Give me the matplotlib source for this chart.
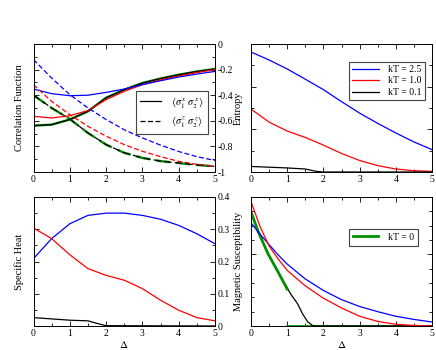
import matplotlib
matplotlib.use("Agg")
import matplotlib.pyplot as plt
from matplotlib.lines import Line2D
from matplotlib.ticker import MultipleLocator

plt.rcParams['font.family'] = ['Liberation Serif', 'DejaVu Serif']
plt.rcParams['mathtext.fontset'] = 'stix'
plt.rcParams['font.size'] = 7

# correlation functions (top left)
D = [0, 0.5, 1, 1.5, 2, 2.5, 3, 3.5, 4, 4.5, 5]
xx_blue = [-0.352, -0.388, -0.404, -0.400, -0.378, -0.352, -0.318, -0.287, -0.258, -0.235, -0.214]
xx_red = [-0.565, -0.578, -0.56, -0.52, -0.435, -0.37, -0.318, -0.28, -0.25, -0.223, -0.2]
xx_black = [-0.638, -0.63, -0.59, -0.526, -0.42, -0.357, -0.305, -0.27, -0.24, -0.215, -0.195]
zz_blue = [-0.122, -0.266, -0.396, -0.5, -0.59, -0.67, -0.734, -0.79, -0.84, -0.88, -0.91]
zz_red = [-0.318, -0.448, -0.552, -0.643, -0.72, -0.786, -0.838, -0.88, -0.917, -0.94, -0.956]
zz_black = [-0.40, -0.5, -0.586, -0.695, -0.786, -0.85, -0.89, -0.915, -0.93, -0.945, -0.956]

# entropy (top right)
S_blue = [0.5625, 0.525, 0.483, 0.435, 0.386, 0.33, 0.276, 0.228, 0.183, 0.141, 0.105]
S_red = [0.295, 0.234, 0.192, 0.162, 0.126, 0.087, 0.054, 0.03, 0.014, 0.006, 0.003]
D_Sk = [0, 1, 1.5, 1.8, 2, 5]
S_black = [0.026, 0.019, 0.014, 0.003, 0.0, 0.0]

# specific heat (bottom left)
C_blue = [0.209, 0.271, 0.317, 0.343, 0.350, 0.350, 0.343, 0.331, 0.312, 0.286, 0.255]
C_red = [0.304, 0.271, 0.221, 0.178, 0.157, 0.142, 0.116, 0.080, 0.049, 0.026, 0.016]
D_Ck = [0, 1, 1.5, 1.75, 2, 5]
C_black = [0.026, 0.018, 0.016, 0.008, 0.001, 0.0]

# magnetic susceptibility (bottom right)
D_chi = [0, 0.25, 0.5, 0.75, 1, 1.5, 2, 2.5, 3, 3.5, 4, 4.5, 5]
chi_red = [0.434, 0.347, 0.279, 0.234, 0.194, 0.140, 0.097, 0.063, 0.034, 0.016, 0.006, 0.002, 0.0]
chi_blue = [0.36, 0.32, 0.284, 0.248, 0.216, 0.164, 0.124, 0.092, 0.068, 0.05, 0.034, 0.023, 0.014]
D_chig = [0, 0.2, 0.47, 0.75, 1.0]
chi_green = [0.398, 0.329, 0.252, 0.188, 0.129]
D_chig0 = [1.0, 5.0]
chi_green0 = [0.0, 0.0]
D_chik = [0, 0.2, 0.47, 0.75, 1, 1.1, 1.29, 1.43, 1.57, 1.7, 1.8, 5]
chi_black = [0.398, 0.329, 0.252, 0.188, 0.133, 0.111, 0.077, 0.041, 0.014, 0.002, 0, 0]

BLUE, RED, GREEN = '#0000ff', '#ff0000', '#009000'

fig = plt.figure(figsize=(4.36, 3.5), dpi=100)
W, H = 436, 350


def make_ax(x0, y0, x1, y1):
    return fig.add_axes([x0 / W, 1 - y1 / H, (x1 - x0) / W, (y1 - y0) / H])


ax1 = make_ax(33.5, 44, 215, 172)
ax2 = make_ax(251, 44, 432, 172)
ax3 = make_ax(33.5, 197, 215, 326)
ax4 = make_ax(251, 197, 432, 326)

for ax in (ax1, ax2, ax3, ax4):
    ax.set_xlim(0, 5)
    ax.xaxis.set_major_locator(MultipleLocator(1))
    ax.xaxis.set_minor_locator(MultipleLocator(0.5))
    ax.tick_params(which='both', direction='in', top=True, right=True, width=0.6, labelsize=7, pad=2)
    ax.tick_params(which='major', length=3.5)
    ax.tick_params(which='minor', length=2)
    for s in ax.spines.values():
        s.set_linewidth(0.7)

# top left
ax1.plot(D, zz_black, color=GREEN, lw=1.7, ls=(0, (6, 2.5)))
ax1.plot(D, zz_black, color='black', lw=0.9, ls=(0, (6, 2.5)))
ax1.plot(D, xx_black, color=GREEN, lw=1.7)
ax1.plot(D, xx_black, color='black', lw=0.9)
ax1.plot(D, xx_red, color=RED, lw=0.9)
ax1.plot(D, xx_blue, color=BLUE, lw=0.9)
ax1.plot(D, zz_red, color=RED, lw=0.9, ls=(0, (4, 2)))
ax1.plot(D, zz_blue, color=BLUE, lw=0.9, ls=(0, (4, 2)))
ax1.set_ylim(-1, 0)
ax1.yaxis.set_major_locator(MultipleLocator(0.2))
ax1.yaxis.set_minor_locator(MultipleLocator(0.1))
ax1.tick_params(axis='y', labelleft=False, labelright=True)
ax1.set_yticks([0, -0.2, -0.4, -0.6, -0.8, -1])
ax1.set_yticklabels(['0', '-0.2', '-0.4', '-0.6', '-0.8', '-1'])
ax1.set_ylabel('Correlation Function', fontsize=7.5, labelpad=5)
h1 = [Line2D([], [], color='black', lw=0.9),
      Line2D([], [], color='black', lw=0.9, ls=(0, (4, 2)))]
ax1.legend(h1, [r'$\langle\sigma_1^{\,x}\;\sigma_2^{\,x}\rangle$', r'$\langle\sigma_1^{\,z}\;\sigma_2^{\,z}\rangle$'],
           loc='center right', bbox_to_anchor=(0.99, 0.465), fancybox=False, edgecolor='#444444',
           framealpha=1, fontsize=7.5, handlelength=2.0, borderpad=0.4, labelspacing=0.5,
           handletextpad=1.0).get_frame().set_linewidth(0.8)

# top right
ax2.plot(D, S_blue, color=BLUE, lw=0.9, label='kT = 2.5')
ax2.plot(D, S_red, color=RED, lw=0.9, label='kT = 1.0')
ax2.plot(D_Sk, S_black, color='black', lw=0.9, label='kT = 0.1')
ax2.set_ylim(0, 0.6)
ax2.yaxis.set_major_locator(MultipleLocator(0.2))
ax2.yaxis.set_minor_locator(MultipleLocator(0.1))
ax2.tick_params(axis='y', labelleft=False)
ax2.set_ylabel('Entropy', fontsize=7.5, labelpad=4)
ax2.legend(loc='upper right', bbox_to_anchor=(0.99, 0.9), fancybox=False, edgecolor='#444444',
           framealpha=1, fontsize=7, handlelength=2.7, borderpad=0.35, handletextpad=1.0,
           labelspacing=0.25).get_frame().set_linewidth(0.8)

# bottom left
ax3.plot(D, C_blue, color=BLUE, lw=0.9)
ax3.plot(D, C_red, color=RED, lw=0.9)
ax3.plot(D_Ck, C_black, color='black', lw=0.9)
ax3.set_ylim(0, 0.4)
ax3.yaxis.set_major_locator(MultipleLocator(0.1))
ax3.yaxis.set_minor_locator(MultipleLocator(0.05))
ax3.tick_params(axis='y', labelleft=False, labelright=True)
ax3.set_yticks([0, 0.1, 0.2, 0.3, 0.4])
ax3.set_yticklabels(['0', '0.1', '0.2', '0.3', '0.4'])
ax3.set_ylabel('Specific Heat', fontsize=7.5, labelpad=5)
ax3.set_xlabel(r'$\Delta$', fontsize=8, labelpad=1)

# bottom right
ax4.plot(D_chig0, chi_green0, color=GREEN, lw=2.0)
ax4.plot(D_chik, chi_black, color='black', lw=0.9)
ax4.plot(D_chig, chi_green, color=GREEN, lw=2.0, label='kT = 0')
ax4.plot(D_chi, chi_blue, color=BLUE, lw=0.9)
ax4.plot(D_chi, chi_red, color=RED, lw=0.9)
ax4.set_ylim(0, 0.45)
ax4.yaxis.set_major_locator(MultipleLocator(0.25))
ax4.yaxis.set_minor_locator(MultipleLocator(0.05))
ax4.tick_params(axis='y', labelleft=False)
ax4.set_ylabel('Magnetic Susceptibility', fontsize=7.5, labelpad=4)
ax4.set_xlabel(r'$\Delta$', fontsize=8, labelpad=1)
ax4.legend(loc='upper right', bbox_to_anchor=(0.95, 0.79), fancybox=False, edgecolor='#444444',
           framealpha=1, fontsize=7, handlelength=2.6, borderpad=0.4,
           handletextpad=1.0).get_frame().set_linewidth(0.8)

fig.savefig('out.png', dpi=100)
